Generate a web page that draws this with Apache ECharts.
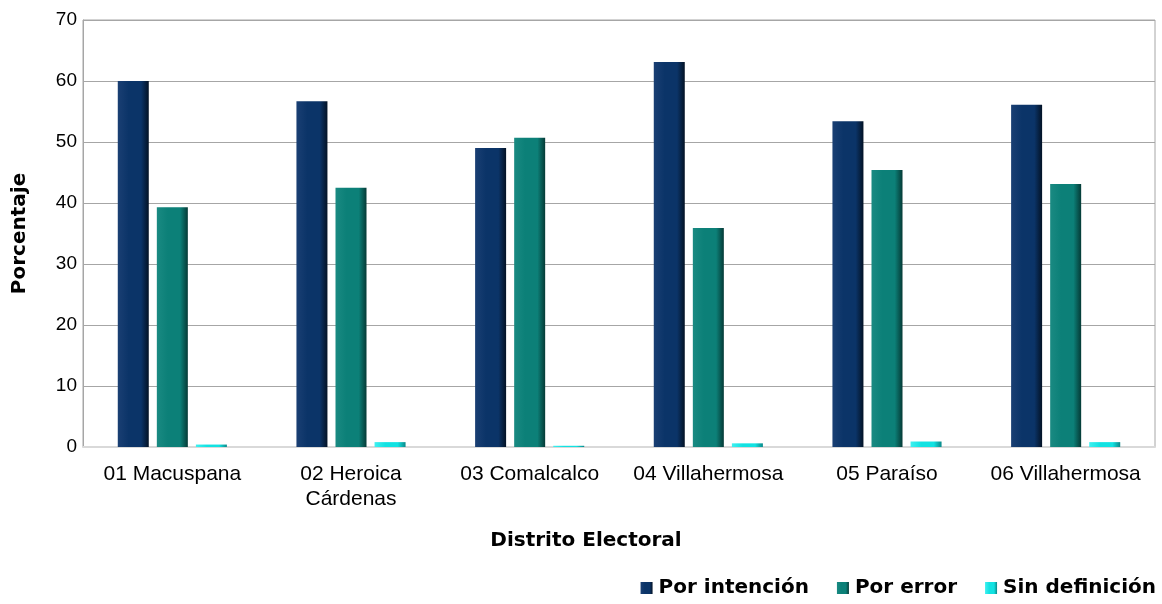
<!DOCTYPE html>
<html><head><meta charset="utf-8">
<script src="https://cdn.jsdelivr.net/npm/echarts@6/dist/echarts.min.js"></script>
<style>html,body{margin:0;padding:0;background:#fff}#c{width:1162px;height:604px}</style>
</head><body><div id="c"></div>
<script>
const categories = ['01 Macuspana', '02 Heroica\nCárdenas', '03 Comalcalco', '04 Villahermosa', '05 Paraíso', '06 Villahermosa'];
const porIntencion = [60.0, 56.7, 49.0, 63.1, 53.4, 56.1];
const porError = [39.3, 42.5, 50.7, 35.9, 45.4, 43.1];
const sinDefinicion = [0.4, 0.8, 0.2, 0.6, 0.9, 0.8];
const yTicks = [0, 10, 20, 30, 40, 50, 60, 70];

function grad(l, m, r) {
  return new echarts.graphic.LinearGradient(0, 0, 1, 0, [
    {offset: 0, color: l}, {offset: 0.35, color: m}, {offset: 0.75, color: m}, {offset: 1, color: r}
  ]);
}
const font = 'Liberation Sans, Arial, sans-serif';
const boldFont = 'DejaVu Sans, sans-serif';
const chart = echarts.init(document.getElementById('c'));
chart.setOption({
  animation: false,
  grid: {left: 83, right: 7, top: 20, bottom: 157, show: true, borderColor: '#a6a6a6', borderWidth: 1,
         outerBoundsMode: 'none', containLabel: false},
  legend: {
    right: 1, bottom: 1, itemWidth: 12, itemHeight: 12, itemGap: 28, icon: 'rect',
    textStyle: {fontFamily: boldFont, fontSize: 20, fontWeight: 'bold', color: '#000', padding: [0, 0, 0, 1]},
    data: ['Por intención', 'Por error', 'Sin definición']
  },
  xAxis: {
    type: 'category', data: categories,
    name: 'Distrito Electoral', nameLocation: 'middle', nameGap: 84,
    nameTextStyle: {fontFamily: boldFont, fontSize: 20, fontWeight: 'bold', color: '#000', padding: [0, 66, 0, 0]},
    axisLine: {lineStyle: {color: '#d9d9d9', width: 2}},
    axisTick: {show: false},
    axisLabel: {fontFamily: font, fontSize: 21, color: '#000', margin: 15, lineHeight: 25, interval: 0}
  },
  yAxis: {
    type: 'value', min: 0, max: 70, interval: 10,
    name: 'Porcentaje', nameLocation: 'middle', nameGap: 53,
    nameTextStyle: {fontFamily: boldFont, fontSize: 20, fontWeight: 'bold', color: '#000'},
    axisLine: {show: true, lineStyle: {color: '#a6a6a6'}},
    axisTick: {show: false},
    splitLine: {lineStyle: {color: '#a6a6a6'}},
    axisLabel: {fontFamily: font, fontSize: 19, color: '#000', margin: 6,
      formatter: v => yTicks.includes(v) ? String(v) : ''}
  },
  series: [
    {name: 'Por intención', type: 'bar', data: porIntencion, barWidth: 31, barGap: '26%',
     itemStyle: {color: grad('#1a3f73', '#0b3468', '#031225')}},
    {name: 'Por error', type: 'bar', data: porError, barWidth: 31, barGap: '26%',
     itemStyle: {color: grad('#1a8a82', '#0c8078', '#053a36')}},
    {name: 'Sin definición', type: 'bar', data: sinDefinicion, barWidth: 31, barGap: '26%',
     itemStyle: {color: grad('#3ff0f0', '#12e2e2', '#0a8888')}}
  ]
});
</script></body></html>
